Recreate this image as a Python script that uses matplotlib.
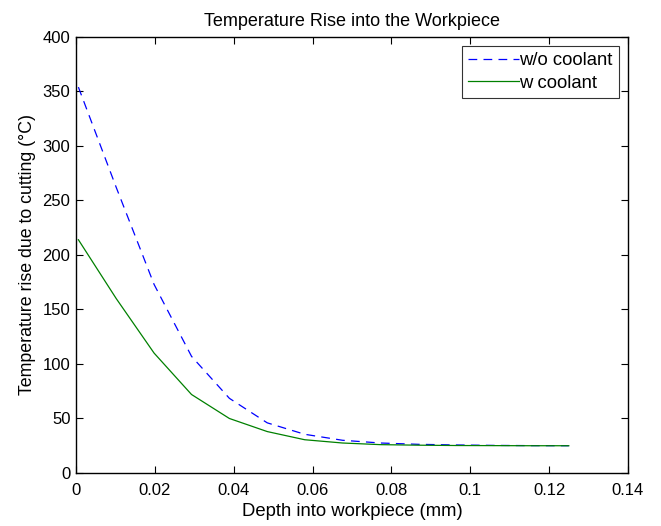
import matplotlib
matplotlib.use("Agg")
import matplotlib.pyplot as plt

depth = [0.0006, 0.0102, 0.0198, 0.0293, 0.0389, 0.0485, 0.0580, 0.0676,
         0.0772, 0.0868, 0.0963, 0.1059, 0.1155, 0.1250]
temp_wo = [354, 262, 173, 107, 68.5, 46, 35.5, 30, 27.5, 26.3, 25.7, 25.3, 25.1, 25.0]
temp_w = [214, 160, 110, 72, 50, 38, 30.5, 27.5, 26, 25.5, 25.2, 25.1, 25.0, 25.0]

plt.rcParams['font.family'] = ['Liberation Sans', 'DejaVu Sans']
plt.rcParams['font.size'] = 12

fig = plt.figure(figsize=(6.61, 5.26), dpi=100)
ax = fig.add_axes([0.115, 0.1008, 0.835, 0.8289])

ax.plot(depth, temp_wo, color='#0000ff', linestyle=(0, (7, 5)), linewidth=0.9, label='w/o coolant')
ax.plot(depth, temp_w, color='#008000', linestyle='-', linewidth=0.9, label='w coolant')

ax.set_xlim(0, 0.14)
ax.set_ylim(0, 400)
ax.set_xticks([0, 0.02, 0.04, 0.06, 0.08, 0.1, 0.12, 0.14])
ax.set_xticklabels(['0', '0.02', '0.04', '0.06', '0.08', '0.1', '0.12', '0.14'])
ax.set_yticks(range(0, 401, 50))
ax.tick_params(direction='in', top=True, right=True, length=5, width=0.8)
ax.tick_params(axis='x', pad=7)
ax.tick_params(axis='y', pad=4)
for s in ax.spines.values():
    s.set_linewidth(1.0)

ax.set_title('Temperature Rise into the Workpiece', fontsize=13, pad=8)
ax.set_xlabel('Depth into workpiece (mm)', fontsize=13.3, labelpad=4)
ax.set_ylabel('Temperature rise due to cutting (°C)', fontsize=12.8, labelpad=5)

leg = ax.legend(loc='upper right', fancybox=False, frameon=True, edgecolor='black',
                fontsize=13.3, borderaxespad=0.5, handlelength=2.75, handletextpad=0.05,
                borderpad=0.32, labelspacing=0.3)
leg.get_frame().set_linewidth(0.8)

fig.savefig('out.png', dpi=100)
